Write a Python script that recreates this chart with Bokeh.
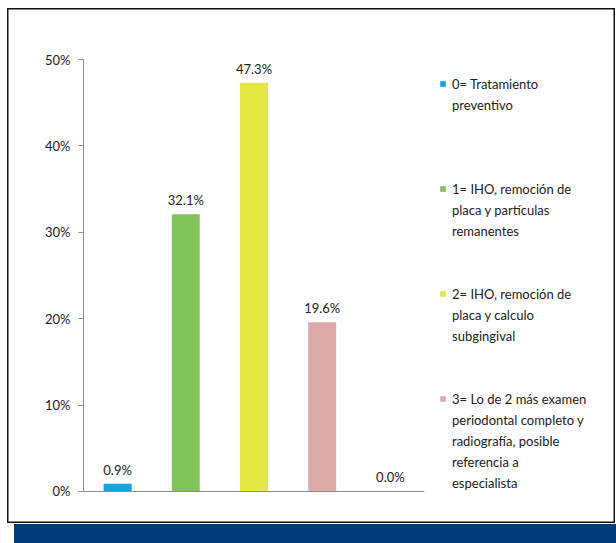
from bokeh.plotting import figure
from bokeh.models import (FactorRange, Range1d, ColumnDataSource, Legend, LegendItem,
                          NumeralTickFormatter, FixedTicker, Div, Span)
from bokeh.layouts import column, row
from bokeh.core.properties import value
from bokeh.embed import file_html
from bokeh.resources import INLINE

categories = ["0", "1", "2", "3", "4"]
values = [0.009, 0.321, 0.473, 0.196, 0.0]
value_labels = ["0.9%", "32.1%", "47.3%", "19.6%", "0.0%"]
colors = ["#17A2DE", "#80C45C", "#E5E744", "#DEAAAA", "#BBBBBB"]
legend_labels = [
    "0= Tratamiento\npreventivo",
    "1= IHO, remoción de\nplaca y partículas\nremanentes",
    "2= IHO, remoción de\nplaca y calculo\nsubgingival",
    "3= Lo de 2 más examen\nperiodontal completo y\nradiografía, posible\nreferencia a\nespecialista",
]
y_ticks = [0.0, 0.1, 0.2, 0.3, 0.4, 0.5]

FONT = "Lato"
TXT = "#222222"
AXIS = "#8C8C8C"

src = ColumnDataSource(dict(cat=categories, val=values, lab=value_labels, col=colors))

# chart box spans page x 7..425, y 8..523; plot frame x 83..424, y 59..503 (0% at y 491)
p = figure(x_range=FactorRange(*categories, range_padding=0.0), y_range=Range1d(-0.0139, 0.5),
           width=418, height=515, output_backend="svg", toolbar_location=None,
           x_axis_location=None,
           min_border_left=76, min_border_right=1, min_border_top=51, min_border_bottom=20)
p.outline_line_color = None
p.grid.visible = False
p.background_fill_alpha = 0
p.border_fill_alpha = 0

bars = p.vbar(x="cat", top="val", bottom=0, width=0.41, fill_color="col", line_color=None,
              source=src)

p.text(x="cat", y="val", text="lab", source=src, text_align="center", text_baseline="bottom",
       y_offset=-6, text_font=value(FONT), text_font_size="13px", text_color=TXT)

# baseline (category axis line)
p.add_layout(Span(location=0, dimension="width", line_color=AXIS, line_width=1))

# y axis
p.yaxis.ticker = FixedTicker(ticks=y_ticks)
p.yaxis.formatter = NumeralTickFormatter(format="0%")
p.yaxis.bounds = (0, 0.5)
p.yaxis.axis_line_color = AXIS
p.yaxis.major_tick_line_color = AXIS
p.yaxis.major_tick_out = 5
p.yaxis.major_tick_in = 0
p.yaxis.minor_tick_line_color = None
p.yaxis.major_label_text_font = FONT
p.yaxis.major_label_text_font_size = "13px"
p.yaxis.major_label_text_color = TXT
p.yaxis.major_label_standoff = 8

# legend panel (page x 425..615): one-point proxies, kept outside the visible range
lp = figure(width=190, height=515, output_backend="svg", toolbar_location=None,
            x_range=Range1d(0, 1), y_range=Range1d(0, 1),
            x_axis_location=None, y_axis_location=None,
            min_border_left=0, min_border_right=0, min_border_top=51, min_border_bottom=20)
lp.outline_line_color = None
lp.grid.visible = False
lp.background_fill_alpha = 0
lp.border_fill_alpha = 0

proxies = [lp.vbar(x=[-5], top=[-5], bottom=[-6], width=0.4, fill_color=colors[i],
                   line_color=None)
           for i in range(len(legend_labels))]
ghost = lp.vbar(x=[-5], top=[-5], bottom=[-6], width=0.4, fill_alpha=0, line_alpha=0)

gap_lines = [3, 2, 2]
items = []
for i, lab in enumerate(legend_labels):
    for j, line in enumerate(lab.split("\n")):
        items.append(LegendItem(label=line, renderers=[proxies[i] if j == 0 else ghost],
                                index=0))
    if i < len(gap_lines):
        for _ in range(gap_lines[i]):
            items.append(LegendItem(label=" ", renderers=[ghost], index=0))

leg = Legend(items=items, location="top_left", orientation="vertical")
leg.border_line_color = None
leg.background_fill_alpha = 0
leg.margin = 14
leg.padding = 0
leg.spacing = 0
leg.label_height = 21
leg.glyph_height = 7
leg.glyph_width = 7
leg.label_standoff = 6
leg.label_text_font = FONT
leg.label_text_font_size = "13px"
leg.label_text_color = TXT
leg.label_text_baseline = "middle"
lp.add_layout(leg)

chart = row(p, lp, spacing=0, margin=(8, 0, 0, 7))
chart.styles = {"box-shadow": "inset 0 0 0 1.5px #111111", "background-color": "white"}

band = Div(text="", width=602, height=19, margin=(1, 0, 0, 14),
           styles={"background-color": "#003B7A"})

layout = column(chart, band, spacing=0)
open("out.html", "w").write(file_html(layout, INLINE))
